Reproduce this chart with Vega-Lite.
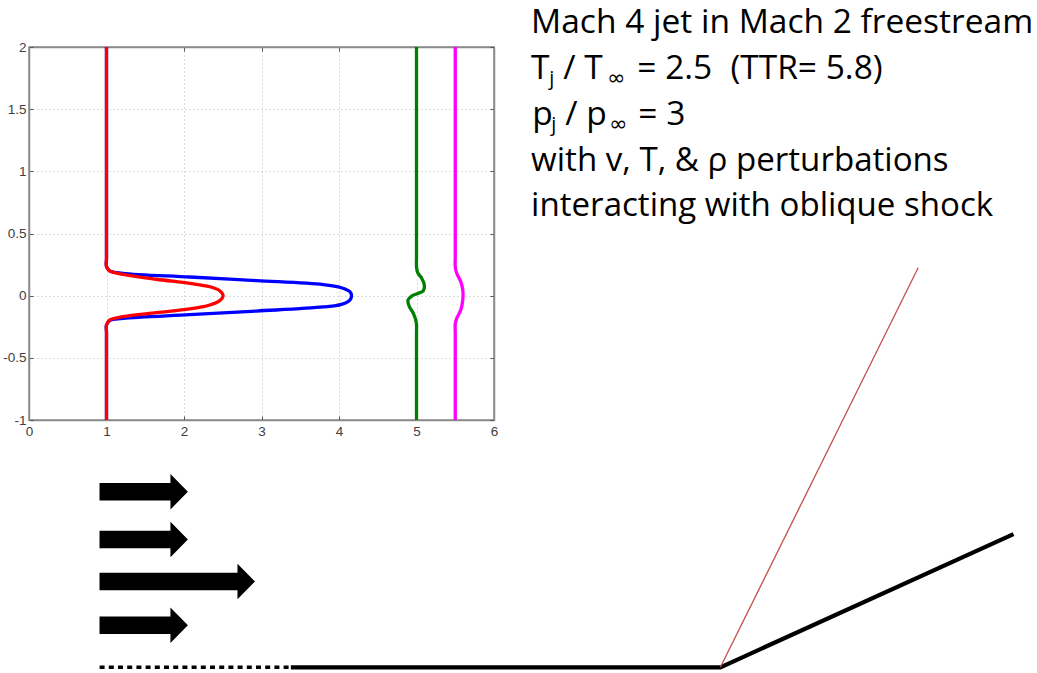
{
"$schema":"https://vega.github.io/schema/vega-lite/v6.json",
"width":465,"height":373,
"autosize":{"type":"none"},
"padding":{"left":29,"top":47,"right":543,"bottom":253},
"background":"white",
"view":{"stroke":"#8a8a8a","strokeWidth":1.5},
"config":{"axis":{"labelFont":"Liberation Sans","labelFontSize":13.5,"labelColor":"#404040","domainColor":"#8a8a8a","domainWidth":1.5,"tickColor":"#555555","tickSize":-4,"tickWidth":1,"title":null}},
"resolve":{"axis":{"x":"independent","y":"independent"}},
"layer":[
{"data":{"values":[{"x":0,"y":0}]},"mark":{"type":"point","opacity":0},
 "encoding":{
  "x":{"field":"x","type":"quantitative","scale":{"domain":[0,6],"nice":false,"zero":false},
       "axis":{"orient":"bottom","values":[0,1,2,3,4,5,6],"grid":true,"gridColor":"#b8b8b8","gridDash":[1,3],"gridWidth":1,"labelPadding":8,"labelFlush":false,"labelExpr":"''+datum.value"}},
  "y":{"field":"y","type":"quantitative","scale":{"domain":[-1,2],"nice":false,"zero":false},
       "axis":{"orient":"left","values":[-1,-0.5,0,0.5,1,1.5,2],"grid":true,"gridColor":"#b8b8b8","gridDash":[1,3],"gridWidth":1,"labelPadding":7,"labelExpr":"''+datum.value"}}
 }},
{"data":{"values":[{"x":0,"y":0}]},"mark":{"type":"point","opacity":0},
 "encoding":{
  "x":{"field":"x","type":"quantitative","axis":{"orient":"top","values":[0,1,2,3,4,5,6],"grid":false,"labels":false}},
  "y":{"field":"y","type":"quantitative","axis":{"orient":"right","values":[-1,-0.5,0,0.5,1,1.5,2],"grid":false,"labels":false}}
 }},
{"data":{"values":[
 {"series":"blue","i":1,"x":1,"y":-1},{"series":"blue","i":2,"x":1,"y":-0.6},{"series":"blue","i":3,"x":1,"y":-0.3},{"series":"blue","i":4,"x":1,"y":-0.236},{"series":"blue","i":5,"x":1.04,"y":-0.2},{"series":"blue","i":6,"x":1.212,"y":-0.183},{"series":"blue","i":7,"x":2.074,"y":-0.153},{"series":"blue","i":8,"x":2.935,"y":-0.124},{"series":"blue","i":9,"x":3.796,"y":-0.091},{"series":"blue","i":10,"x":4.03,"y":-0.07},{"series":"blue","i":11,"x":4.14,"y":-0.035},{"series":"blue","i":12,"x":4.162,"y":0},{"series":"blue","i":13,"x":4.14,"y":0.032},{"series":"blue","i":14,"x":4.03,"y":0.064},{"series":"blue","i":15,"x":3.796,"y":0.089},{"series":"blue","i":16,"x":2.935,"y":0.121},{"series":"blue","i":17,"x":2.074,"y":0.15},{"series":"blue","i":18,"x":1.212,"y":0.18},{"series":"blue","i":19,"x":1.04,"y":0.2},{"series":"blue","i":20,"x":1,"y":0.234},{"series":"blue","i":21,"x":1,"y":0.3},{"series":"blue","i":22,"x":1,"y":0.6},{"series":"blue","i":23,"x":1,"y":2},
 {"series":"red","i":1,"x":1,"y":-1},{"series":"red","i":2,"x":1,"y":-0.6},{"series":"red","i":3,"x":1,"y":-0.3},{"series":"red","i":4,"x":1,"y":-0.236},{"series":"red","i":5,"x":1.04,"y":-0.196},{"series":"red","i":6,"x":1.212,"y":-0.169},{"series":"red","i":7,"x":1.643,"y":-0.137},{"series":"red","i":8,"x":2.074,"y":-0.107},{"series":"red","i":9,"x":2.332,"y":-0.075},{"series":"red","i":10,"x":2.461,"y":-0.04},{"series":"red","i":11,"x":2.504,"y":0},{"series":"red","i":12,"x":2.461,"y":0.04},{"series":"red","i":13,"x":2.332,"y":0.072},{"series":"red","i":14,"x":2.074,"y":0.099},{"series":"red","i":15,"x":1.643,"y":0.132},{"series":"red","i":16,"x":1.212,"y":0.172},{"series":"red","i":17,"x":1.04,"y":0.199},{"series":"red","i":18,"x":1,"y":0.234},{"series":"red","i":19,"x":1,"y":0.3},{"series":"red","i":20,"x":1,"y":0.6},{"series":"red","i":21,"x":1,"y":2},
 {"series":"green","i":1,"x":5,"y":-1},{"series":"green","i":2,"x":5,"y":-0.6},{"series":"green","i":3,"x":5,"y":-0.3},{"series":"green","i":4,"x":4.998,"y":-0.22},{"series":"green","i":5,"x":4.96,"y":-0.142},{"series":"green","i":6,"x":4.908,"y":-0.089},{"series":"green","i":7,"x":4.89,"y":-0.035},{"series":"green","i":8,"x":4.938,"y":-0.003},{"series":"green","i":9,"x":5.024,"y":0.019},{"series":"green","i":10,"x":5.088,"y":0.04},{"series":"green","i":11,"x":5.101,"y":0.086},{"series":"green","i":12,"x":5.067,"y":0.14},{"series":"green","i":13,"x":5.015,"y":0.185},{"series":"green","i":14,"x":5,"y":0.234},{"series":"green","i":15,"x":5,"y":0.3},{"series":"green","i":16,"x":5,"y":0.6},{"series":"green","i":17,"x":5,"y":2},
 {"series":"magenta","i":1,"x":5.5,"y":-1},{"series":"magenta","i":2,"x":5.5,"y":-0.6},{"series":"magenta","i":3,"x":5.5,"y":-0.3},{"series":"magenta","i":4,"x":5.5,"y":-0.228},{"series":"magenta","i":5,"x":5.519,"y":-0.183},{"series":"magenta","i":6,"x":5.571,"y":-0.115},{"series":"magenta","i":7,"x":5.597,"y":-0.035},{"series":"magenta","i":8,"x":5.597,"y":0.046},{"series":"magenta","i":9,"x":5.571,"y":0.113},{"series":"magenta","i":10,"x":5.519,"y":0.18},{"series":"magenta","i":11,"x":5.5,"y":0.234},{"series":"magenta","i":12,"x":5.5,"y":0.3},{"series":"magenta","i":13,"x":5.5,"y":0.6},{"series":"magenta","i":14,"x":5.5,"y":2}
 ]},
 "mark":{"type":"line","interpolate":"catmull-rom","strokeWidth":3.3},
 "encoding":{
  "x":{"field":"x","type":"quantitative","axis":null},
  "y":{"field":"y","type":"quantitative","axis":null},
  "order":{"field":"i","type":"quantitative"},
  "color":{"field":"series","type":"nominal","legend":null,"sort":["blue","red","green","magenta"],"scale":{"domain":["blue","red","green","magenta"],"range":["#0000ff","#ff0000","#008000","#ff00ff"]}}
 }},
{"data":{"values":[
 {"arrow":"a","x":0.91,"y":-1.647,"y2":-1.507},{"arrow":"a","x":1.825,"y":-1.647,"y2":-1.507},{"arrow":"a","x":1.825,"y":-1.72,"y2":-1.434},{"arrow":"a","x":2.05,"y":-1.577,"y2":-1.577},
 {"arrow":"b","x":0.91,"y":-2.031,"y2":-1.891},{"arrow":"b","x":1.825,"y":-2.031,"y2":-1.891},{"arrow":"b","x":1.825,"y":-2.104,"y2":-1.818},{"arrow":"b","x":2.05,"y":-1.961,"y2":-1.961},
 {"arrow":"c","x":0.91,"y":-2.369,"y2":-2.229},{"arrow":"c","x":2.69,"y":-2.369,"y2":-2.229},{"arrow":"c","x":2.69,"y":-2.442,"y2":-2.156},{"arrow":"c","x":2.915,"y":-2.299,"y2":-2.299},
 {"arrow":"d","x":0.91,"y":-2.721,"y2":-2.581},{"arrow":"d","x":1.825,"y":-2.721,"y2":-2.581},{"arrow":"d","x":1.825,"y":-2.794,"y2":-2.508},{"arrow":"d","x":2.05,"y":-2.651,"y2":-2.651}
 ]},
 "mark":{"type":"area","color":"#000000","orient":"vertical"},
 "encoding":{
  "x":{"field":"x","type":"quantitative","axis":null},
  "y":{"field":"y","type":"quantitative","axis":null},
  "y2":{"field":"y2"},
  "detail":{"field":"arrow"}
 }},
{"data":{"values":[{"x":0.911,"y":-2.989},{"x":3.366,"y":-2.989}]},
 "mark":{"type":"line","color":"#000000","strokeWidth":3.5,"strokeDash":[5,4.2]},
 "encoding":{"x":{"field":"x","type":"quantitative","axis":null},"y":{"field":"y","type":"quantitative","axis":null}}},
{"data":{"values":[{"x":3.379,"y":-2.989},{"x":8.921,"y":-2.989},{"x":12.703,"y":-1.918}]},
 "mark":{"type":"line","color":"#000000","strokeWidth":4.2},
 "encoding":{"x":{"field":"x","type":"quantitative","axis":null},"y":{"field":"y","type":"quantitative","axis":null}}},
{"data":{"values":[{"x":8.921,"y":-2.989},{"x":11.473,"y":0.224}]},
 "mark":{"type":"line","color":"#c0504d","strokeWidth":1.3},
 "encoding":{"x":{"field":"x","type":"quantitative","axis":null},"y":{"field":"y","type":"quantitative","axis":null}}},
{"data":{"values":[
 {"x":6.479,"y":2.109,"t":"Mach 4 jet in Mach 2 freestream"},
 {"x":6.479,"y":1.746,"t":"T"},{"x":6.893,"y":1.746,"t":"/ T"},{"x":7.849,"y":1.746,"t":"= 2.5"},{"x":9.05,"y":1.746,"t":"(TTR= 5.8)"},
 {"x":6.492,"y":1.376,"t":"p"},{"x":6.919,"y":1.376,"t":"/ p"},{"x":7.862,"y":1.376,"t":"= 3"}
 ]},
 "mark":{"type":"text","font":"Open Sans","fontSize":33.5,"align":"left","baseline":"alphabetic","color":"#000000"},
 "encoding":{"x":{"field":"x","type":"quantitative","axis":null},"y":{"field":"y","type":"quantitative","axis":null},"text":{"field":"t"}}},
{"data":{"values":[
 {"x":6.479,"y":1.005,"t":"with v, T, & ρ perturbations"},
 {"x":6.479,"y":0.643,"t":"interacting with oblique shock"}
 ]},
 "mark":{"type":"text","font":"Open Sans","fontSize":33.1,"align":"left","baseline":"alphabetic","color":"#000000"},
 "encoding":{"x":{"field":"x","type":"quantitative","axis":null},"y":{"field":"y","type":"quantitative","axis":null},"text":{"field":"t"}}},
{"data":{"values":[
 {"x":6.712,"y":1.698,"t":"j"},{"x":6.738,"y":1.328,"t":"j"}
 ]},
 "mark":{"type":"text","font":"Open Sans","fontSize":20,"align":"left","baseline":"alphabetic","color":"#000000"},
 "encoding":{"x":{"field":"x","type":"quantitative","axis":null},"y":{"field":"y","type":"quantitative","axis":null},"text":{"field":"t"}}},
{"data":{"values":[
 {"x":7.461,"y":1.698,"t":"∞"},{"x":7.487,"y":1.328,"t":"∞"}
 ]},
 "mark":{"type":"text","font":"DejaVu Sans","fontSize":22,"align":"left","baseline":"alphabetic","color":"#000000"},
 "encoding":{"x":{"field":"x","type":"quantitative","axis":null},"y":{"field":"y","type":"quantitative","axis":null},"text":{"field":"t"}}}
]
}
